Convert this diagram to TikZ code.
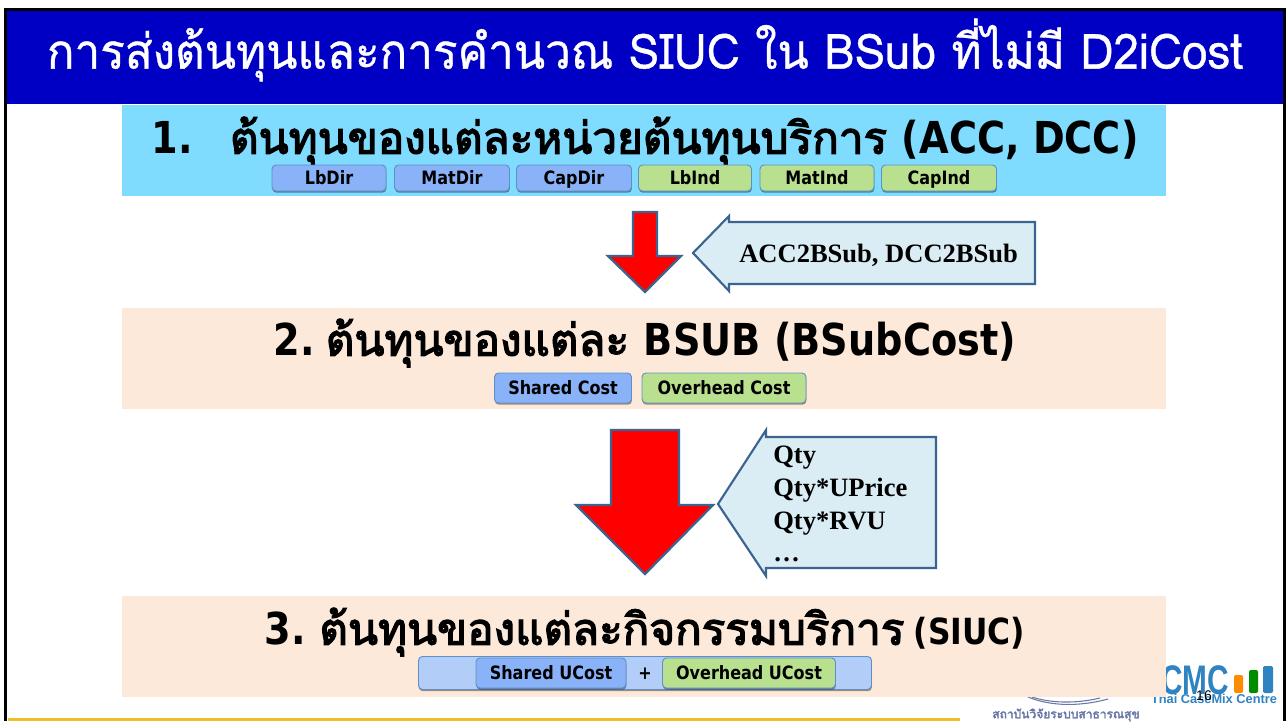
\documentclass[tikz,border=0pt]{standalone}
\usepackage{fontspec}
\usetikzlibrary{shadows}
\setmainfont{Liberation Serif}
\newfontfamily\thaifont[Script=Thai,FakeBold=0.8]{Loma}
\newfontfamily\thaibold[Script=Thai,FakeBold=3]{Loma}
\newfontfamily\latb[FakeStretch=0.87]{DejaVu Sans}
\newfontfamily\latinfont{Liberation Sans}
\newcommand{\lb}[1]{{\latb\bfseries #1}}
\definecolor{hdr}{HTML}{0000C4}
\definecolor{cyanband}{HTML}{7FDCFE}
\definecolor{peach}{HTML}{FDE9DA}
\definecolor{btnblue}{HTML}{8AB2F8}
\definecolor{btngreen}{HTML}{B8E08E}
\definecolor{btnedge}{HTML}{5F8FC4}
\definecolor{callout}{HTML}{DBEDF4}
\definecolor{arrowedge}{HTML}{3C6491}
\definecolor{wide}{HTML}{B2CDF8}
\definecolor{rulegold}{HTML}{F0BE28}
\definecolor{logoblue}{HTML}{2E83C0}
\definecolor{logonavy}{HTML}{6A78A8}
\tikzset{
  x=0.75pt,y=-0.75pt,
  band/.style={fill=#1,draw=none},
  pill/.style={draw=btnedge,line width=0.7pt,rounded corners=3pt,fill=#1,
    drop shadow={shadow xshift=0.3pt,shadow yshift=-1.3pt,opacity=0.4,fill=black},
    inner sep=0pt,anchor=center,text height=10pt,text depth=0pt,
    font=\latb\bfseries\fontsize{13.8}{15}\selectfont,text=black},
  heading/.style={inner sep=0pt,text=black,font=\thaibold\fontsize{33}{38}\selectfont},
  bigarrow/.style={fill=red,draw=arrowedge,line width=1.7pt,line join=miter},
  callshape/.style={fill=callout,draw=arrowedge,line width=1.6pt,line join=miter},
  calltext/.style={inner sep=0pt,text=black,font=\bfseries\fontsize{19.9}{24.5}\selectfont},
}
\newcommand{\pillat}[5]{\node[pill=#1,minimum width=#4*0.75pt,minimum height=#5*0.75pt] at (#2,#3)}
\begin{document}
\begin{tikzpicture}
\useasboundingbox (0,0) rectangle (1287,721);
\fill[white] (0,0) rectangle (1287,721);
% logos (partly hidden by the third band)
\node[inner sep=0pt,text=logoblue,font=\latinfont\bfseries\fontsize{31}{31}\selectfont,xscale=0.72] (cmc) at (1195,680) {CMC};
\fill[orange!90!yellow,rounded corners=1.5pt] (1234,675) rectangle (1243,693);
\fill[green!55!black,rounded corners=1.5pt] (1249,670) rectangle (1258,693);
\fill[logoblue,rounded corners=1.5pt] (1263,666) rectangle (1273,693);
\node[inner sep=0pt,text=logoblue,font=\latinfont\bfseries\fontsize{9.6}{10}\selectfont] (cmcname) at (1214,699) {Thai CaseMix Centre};
\node[inner sep=0pt,text=logonavy,font=\thaibold\fontsize{9}{9}\selectfont] (hsri) at (1066,715) {สถาบันวิจัยระบบสาธารณสุข};
\draw[logonavy,line width=0.8pt] (1026,696) .. controls (1045,705) and (1075,708) .. (1108,699);
\draw[logonavy,line width=0.8pt] (1032,697) .. controls (1050,703) and (1075,704) .. (1100,698);
% frame and header
\fill[rulegold] (8,717.5) rectangle (960,721);
\fill[hdr] (6,10) rectangle (1284,104);
\draw[black,line width=2.2pt] (5.5,721) -- (5.5,9.5) -- (1284.5,9.5) -- (1284.5,721);
\node[inner sep=0pt,text=white,font=\thaifont\fontsize{36.5}{42}\selectfont,xscale=0.94] (title) at (645,50) {การส่งต้นทุนและการคำนวณ SIUC ใน BSub ที่ไม่มี D2iCost};
% bands
\fill[band=cyanband] (122,105) rectangle (1166,196);
\fill[band=peach] (122,308) rectangle (1166,409);
\fill[band=peach] (122,596) rectangle (1166,697);
% headings
\node[heading] (h1) at (645,141) {\lb{1.}\hspace{28pt}ต้นทุนของแต่ละหน่วยต้นทุนบริการ \lb{(ACC, DCC)}};
\node[heading] (h2) at (645,343) {\lb{2.}\hspace{8pt}ต้นทุนของแต่ละ \lb{BSUB (BSubCost)}};
\node[heading] (h3) at (645,632) {\lb{3.}\hspace{10pt}ต้นทุนของแต่ละกิจกรรมบริการ\hspace{7pt}{\fontsize{27}{30}\selectfont \lb{(SIUC)}}};
% pills
\pillat{btnblue}{329}{178}{114}{26} (p1) {LbDir};
\pillat{btnblue}{452}{178}{115}{26} (p2) {MatDir};
\pillat{btnblue}{574}{178}{115}{26} (p3) {CapDir};
\pillat{btngreen}{695}{178}{113}{26} (p4) {LbInd};
\pillat{btngreen}{817}{178}{114}{26} (p5) {MatInd};
\pillat{btngreen}{939}{178}{115}{26} (p6) {CapInd};
\pillat{btnblue}{563}{388}{137}{30} (p7) {Shared Cost};
\pillat{btngreen}{724}{388}{164}{30} (p8) {Overhead Cost};
\pillat{wide}{645}{673}{453}{33} (p9) {};
\pillat{btnblue}{551}{673}{150}{30} (p10) {Shared UCost};
\pillat{btngreen}{749}{673}{173}{30} (p11) {Overhead UCost};
\node[inner sep=0pt,font=\latb\bfseries\fontsize{13.8}{15}\selectfont] (plus) at (645,674) {+};
% first arrow and callout
\draw[bigarrow] (633,212) -- (657,212) -- (657,256) -- (681,256) -- (645,292) -- (608,256) -- (633,256) -- cycle;
\draw[callshape] (693,253) -- (729,216) -- (729,222) -- (1035,222) -- (1035,284) -- (729,284) -- (729,291) -- cycle;
\node[calltext,anchor=west] (c1) at (739,255) {ACC2BSub, DCC2BSub};
% second arrow and callout
\draw[bigarrow] (611,430) -- (679,430) -- (679,505) -- (713,505) -- (645,574) -- (576,505) -- (611,505) -- cycle;
\draw[callshape] (718,504) -- (766,430) -- (766,437) -- (936,437) -- (936,568) -- (766,568) -- (766,576) -- cycle;
\node[calltext,anchor=north west,align=left] (c2) at (773,446) {Qty\\Qty*UPrice\\Qty*RVU\\…};
% page number
\node[inner sep=0pt,font=\latinfont\fontsize{10.5}{12}\selectfont] (pg) at (1204,696) {16};
\end{tikzpicture}
\end{document}
